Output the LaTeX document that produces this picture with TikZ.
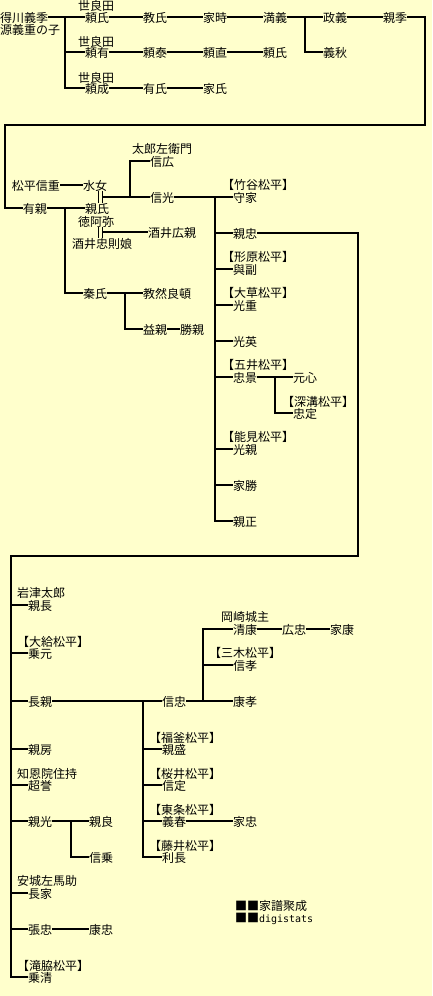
\documentclass[tikz,border=0pt]{standalone}
\usepackage{fontspec}
\newfontfamily\jp{Noto Sans CJK JP}
\newfontfamily\monof{DejaVu Sans Mono}
\definecolor{bgc}{HTML}{FFFFCC}
\tikzset{
 nm/.style={anchor=west, inner sep=0pt, outer sep=0pt, font=\jp\fontsize{12pt}{12pt}\selectfont, text height=11pt, text depth=0pt},
 ln/.style={line width=2pt},
 dbl/.style={line width=1pt}
}
\begin{document}
\begin{tikzpicture}[x=1pt,y=-1pt]
\fill[bgc] (0,0) rectangle (432,996);
\useasboundingbox (0,0) rectangle (432,996);
% ---------- section 1
\node[nm] (t0) at (0,17) {得川義季};
\node[nm] (t0b) at (0,28.5) {源義重の子};
\node[nm] (s1) at (78,5) {世良田};
\node[nm] (s2) at (78,41) {世良田};
\node[nm] (s3) at (78,77) {世良田};
\node[nm] (a1) at (85,17) {頼氏};
\node[nm] (a2) at (143,17) {教氏};
\node[nm] (a3) at (203,17) {家時};
\node[nm] (a4) at (263,17) {満義};
\node[nm] (a5) at (323,17) {政義};
\node[nm] (a6) at (383,17) {親季};
\node[nm] (a7) at (323,52) {義秋};
\node[nm] (b1) at (85,52) {頼有};
\node[nm] (b2) at (143,52) {頼泰};
\node[nm] (b3) at (203,52) {頼直};
\node[nm] (b4) at (263,52) {頼氏};
\node[nm] (c1) at (85,88) {頼成};
\node[nm] (c2) at (143,88) {有氏};
\node[nm] (c3) at (203,88) {家氏};
\coordinate (j0) at (65,17);
\coordinate (j1) at (305,17);
\coordinate (k1) at (425,125);
\coordinate (k2) at (5,125);
\draw[ln] (t0.east) -- (a1.west);
\draw[ln] (j0) |- (b1.west);
\draw[ln] (j0) |- (c1.west);
\draw[ln] (a1.east) -- (a2.west);
\draw[ln] (a2.east) -- (a3.west);
\draw[ln] (a3.east) -- (a4.west);
\draw[ln] (a4.east) -- (a5.west);
\draw[ln] (a5.east) -- (a6.west);
\draw[ln] (j1) |- (a7.west);
\draw[ln] (b1.east) -- (b2.west);
\draw[ln] (b2.east) -- (b3.west);
\draw[ln] (b3.east) -- (b4.west);
\draw[ln] (c1.east) -- (c2.west);
\draw[ln] (c2.east) -- (c3.west);
% ---------- section 2
\node[nm] (d1) at (23,208) {有親};
\draw[ln] (a6.east) -| (k1) -- (k2) |- (d1.west);
\node[nm] (e0) at (12,185) {松平信重};
\node[nm] (e1) at (83,185) {水女};
\node[nm] (e2) at (85,208) {親氏};
\node[nm] (e3) at (78,221) {徳阿弥};
\node[nm] (e4) at (72,243) {酒井忠則娘};
\node[nm] (e5) at (148,232) {酒井広親};
\node[nm] (f0) at (132,148) {太郎左衛門};
\node[nm] (f1) at (150,161) {信広};
\node[nm] (f2) at (150,197) {信光};
\node[nm] (g0) at (222,184) {【竹谷松平】};
\node[nm] (g1) at (233,197) {守家};
\node[nm] (g2) at (233,233) {親忠};
\node[nm] (g3l) at (222,256) {【形原松平】};
\node[nm] (g3) at (233,269) {與副};
\node[nm] (g4l) at (222,292) {【大草松平】};
\node[nm] (g4) at (233,305) {光重};
\node[nm] (g5) at (233,341) {光英};
\node[nm] (g6l) at (222,364) {【五井松平】};
\node[nm] (g6) at (233,377) {忠景};
\node[nm] (g7) at (293,377) {元心};
\node[nm] (g8l) at (282,401) {【深溝松平】};
\node[nm] (g8) at (293,413) {忠定};
\node[nm] (g9l) at (222,436) {【能見松平】};
\node[nm] (g9) at (233,449) {光親};
\node[nm] (g10) at (233,485) {家勝};
\node[nm] (g11) at (233,521) {親正};
\node[nm] (h1) at (83,293) {秦氏};
\node[nm] (h2) at (143,293) {教然良頓};
\node[nm] (h3) at (143,329) {益親};
\node[nm] (h4) at (180,329) {勝親};
\coordinate (m1) at (103,197);
\coordinate (m2) at (103,232);
\coordinate (j2) at (130,197);
\coordinate (j3) at (215,197);
\coordinate (j4) at (275,377);
\coordinate (j9) at (65,208);
\coordinate (j10) at (125,293);
\draw[ln] (e0.east) -- (e1.west);
\draw[dbl] (98.5,0 |- e1.south) -- (98.5,0 |- e2.north);
\draw[dbl] (102,0 |- e1.south) -- (102,0 |- e2.north);
\draw[dbl] (98.5,0 |- e3.south) -- (98.5,0 |- e4.north);
\draw[dbl] (102,0 |- e3.south) -- (102,0 |- e4.north);
\draw[ln] (m1) -- (f2.west);
\draw[ln] (m2) -- (e5.west);
\draw[ln] (j2) |- (f1.west);
\draw[ln] (d1.east) -- (e2.west);
\draw[ln] (j9) |- (h1.west);
\draw[ln] (h1.east) -- (h2.west);
\draw[ln] (j10) |- (h3.west);
\draw[ln] (h3.east) -- (h4.west);
\draw[ln] (f2.east) -- (g1.west);
\foreach \n in {g2,g3,g4,g5,g6,g9,g10,g11} \draw[ln] (j3) |- (\n.west);
\draw[ln] (g6.east) -- (g7.west);
\draw[ln] (j4) |- (g8.west);
% ---------- section 3
\coordinate (k3) at (358,556);
\coordinate (k4) at (11,556);
\node[nm] (p1l) at (17,592) {岩津太郎};
\node[nm] (p1) at (28,605) {親長};
\node[nm] (p2l) at (17,641) {【大給松平】};
\node[nm] (p2) at (28,653) {乗元};
\node[nm] (p3) at (28,701) {長親};
\node[nm] (q0) at (162,701) {信忠};
\node[nm] (q1l) at (221,616) {岡崎城主};
\node[nm] (q1) at (233,629) {清康};
\node[nm] (q2) at (282,629) {広忠};
\node[nm] (q3) at (330,629) {家康};
\node[nm] (q4l) at (209,652) {【三木松平】};
\node[nm] (q4) at (233,665) {信孝};
\node[nm] (q5) at (233,701) {康孝};
\node[nm] (p4) at (28,749) {親房};
\node[nm] (r1l) at (149,737) {【福釜松平】};
\node[nm] (r1) at (162,749) {親盛};
\node[nm] (p5l) at (17,773) {知恩院住持};
\node[nm] (p5) at (28,785) {超誉};
\node[nm] (r2l) at (149,773) {【桜井松平】};
\node[nm] (r2) at (162,785) {信定};
\node[nm] (p6) at (28,821) {親光};
\node[nm] (p7) at (89,821) {親良};
\node[nm] (p8) at (89,857) {信乗};
\node[nm] (r3l) at (149,809) {【東条松平】};
\node[nm] (r3) at (162,821) {義春};
\node[nm] (r4) at (233,821) {家忠};
\node[nm] (r5l) at (149,845) {【藤井松平】};
\node[nm] (r5) at (162,857) {利長};
\node[nm] (p9l) at (17,880) {安城左馬助};
\node[nm] (p9) at (28,893) {長家};
\node[nm] (p10) at (28,929) {張忠};
\node[nm] (p11) at (89,929) {康忠};
\node[nm] (p12l) at (17,965) {【滝脇松平】};
\node[nm] (p12) at (28,977) {乗清};
\node[nm] (z1) at (235,905) {■■家譜聚成};
\node[nm] (z2) at (235,917) {■■{\monof\fontsize{10pt}{12pt}\selectfont digistats}};
\coordinate (j6) at (143,701);
\coordinate (j7) at (203,701);
\coordinate (j8) at (71,821);
\draw[ln] (g2.east) -| (k3) -- (k4) |- (p12.west);
\foreach \n in {p1,p2,p3,p4,p5,p6,p9,p10} \draw[ln] (k4) |- (\n.west);
\draw[ln] (p3.east) -- (q0.west);
\foreach \n in {r1,r2,r3,r5} \draw[ln] (j6) |- (\n.west);
\draw[ln] (q0.east) -- (q5.west);
\draw[ln] (j7) |- (q1.west);
\draw[ln] (j7) |- (q4.west);
\draw[ln] (q1.east) -- (q2.west);
\draw[ln] (q2.east) -- (q3.west);
\draw[ln] (r3.east) -- (r4.west);
\draw[ln] (p6.east) -- (p7.west);
\draw[ln] (j8) |- (p8.west);
\draw[ln] (p10.east) -- (p11.west);
\end{tikzpicture}
\end{document}
